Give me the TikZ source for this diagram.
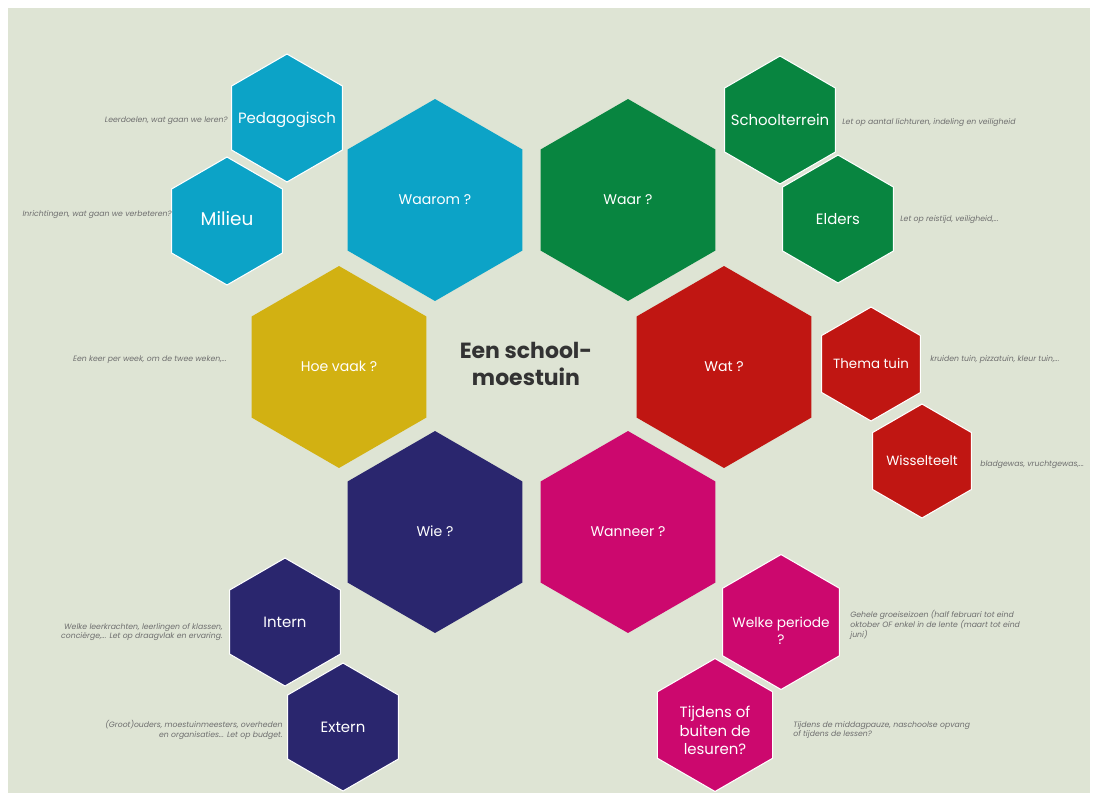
\documentclass[tikz,border=0pt]{standalone}
\usepackage{fontspec}
\setmainfont{Poppins}
\usetikzlibrary{shapes.geometric,positioning}
\definecolor{msBg}{RGB}{222,228,212}
\definecolor{msCyan}{RGB}{12,163,199}
\definecolor{msGreen}{RGB}{8,133,64}
\definecolor{msYellow}{RGB}{210,177,18}
\definecolor{msRed}{RGB}{192,22,18}
\definecolor{msNavy}{RGB}{42,38,110}
\definecolor{msPink}{RGB}{204,8,110}
\definecolor{msTitle}{RGB}{51,51,51}
\definecolor{msNote}{RGB}{110,110,110}
% text that does not widen the hexagon
\newcommand{\hexlines}[2][2.8pt]{\smash{\makebox[0pt]{\raisebox{-#1}{\begin{tabular}{@{}c@{}}#2\end{tabular}}}}}

\begin{document}
\begin{tikzpicture}[x=0.02cm, y=-0.02cm]
\tikzstyle{hex}=[regular polygon, regular polygon sides=6, shape border rotate=30, inner sep=0pt, text=white]
\tikzstyle{bighex}=[hex, minimum size=4.04cm, font=\fontsize{8}{10}\selectfont]
\tikzstyle{smallhex}=[hex, minimum size=2.56cm, draw=white, line width=0.6pt, font=\fontsize{8.5}{10.5}\selectfont]
\tikzstyle{tinyhex}=[hex, minimum size=2.28cm, draw=white, line width=0.6pt, font=\fontsize{7.6}{9.5}\selectfont]
\tikzstyle{note}=[text=msNote, inner sep=0pt, font=\fontsize{4.4}{5.6}\selectfont\itshape]

% background
\fill[white] (0,0) rectangle (1097,798);
\fill[msBg] (8,8) rectangle (1090,793);
\useasboundingbox (0,0) rectangle (1097,798);

% main questions
\node[bighex, fill=msCyan] (waarom) at (435,200) {\hexlines{Waarom ?}};
\node[bighex, fill=msGreen] (waar) at (628,200) {\hexlines{Waar ?}};
\node[bighex, fill=msYellow] (hoevaak) at (339,367) {\hexlines{Hoe vaak ?}};
\node[bighex, fill=msRed] (wat) at (724,367) {\hexlines{Wat ?}};
\node[bighex, fill=msNavy] (wie) at (435,532) {\hexlines{Wie ?}};
\node[bighex, fill=msPink] (wanneer) at (628,532) {\hexlines{Wanneer ?}};

\node[text=msTitle, align=center, font=\fontsize{12.5}{15}\selectfont\bfseries] (title) at (526,364) {Een school-\\moestuin};

% sub questions
\node[smallhex, fill=msCyan] (ped) at (287,118) {\hexlines{Pedagogisch}};
\node[smallhex, fill=msCyan, font=\fontsize{10.5}{12}\selectfont] (milieu) at (227,221) {\hexlines{Milieu}};
\node[smallhex, fill=msGreen] (terrein) at (780,120) {\hexlines{Schoolterrein}};
\node[smallhex, fill=msGreen] (elders) at (838,219) {\hexlines{Elders}};
\node[tinyhex, fill=msRed] (thema) at (871,364) {\hexlines{Thema tuin}};
\node[tinyhex, fill=msRed] (wissel) at (922,461) {\hexlines{Wisselteelt}};
\node[smallhex, fill=msNavy] (intern) at (285,622) {\hexlines{Intern}};
\node[smallhex, fill=msNavy] (extern) at (343,727) {\hexlines{Extern}};
\node[smallhex, fill=msPink, minimum size=2.7cm, font=\fontsize{7.8}{9.5}\selectfont] (periode) at (781,622) {\hexlines[8pt]{Welke periode\\?}};
\node[smallhex, fill=msPink, minimum size=2.66cm] (tijdens) at (715,725) {\hexlines[6.2pt]{Tijdens of\\buiten de\\lesuren?}};

% notes
\node[note, anchor=east] (pedNote) at (228,121) {Leerdoelen, wat gaan we leren?};
\node[note, anchor=east] (milieuNote) at (172,215) {Inrichtingen, wat gaan we verbeteren?};
\node[note, anchor=west] (terreinNote) at (842,123) {Let op aantal lichturen, indeling en veiligheid};
\node[note, anchor=west] (eldersNote) at (900,220) {Let op reistijd, veiligheid,...};
\node[note, anchor=east] (hoevaakNote) at (227,360) {Een keer per week, om de twee weken,...};
\node[note, anchor=west] (themaNote) at (930,360) {kruiden tuin, pizzatuin, kleur tuin,...};
\node[note, anchor=west] (wisselNote) at (980,465) {bladgewas, vruchtgewas,...};
\node[note, anchor=east, align=right] (internNote) at (223,632) {Welke leerkrachten, leerlingen of klassen,\\conciërge,... Let op draagvlak en ervaring.};
\node[note, anchor=east, align=right] (externNote) at (283,730) {(Groot)ouders, moestuinmeesters, overheden\\en organisaties... Let op budget.};
\node[note, anchor=west, align=left] (periodeNote) at (850,625) {Gehele groeiseizoen (half februari tot eind\\oktober OF enkel in de lente (maart tot eind\\juni)};
\node[note, anchor=west, align=left] (tijdensNote) at (793,730) {Tijdens de middagpauze, naschoolse opvang\\of tijdens de lessen?};
\end{tikzpicture}
\end{document}
